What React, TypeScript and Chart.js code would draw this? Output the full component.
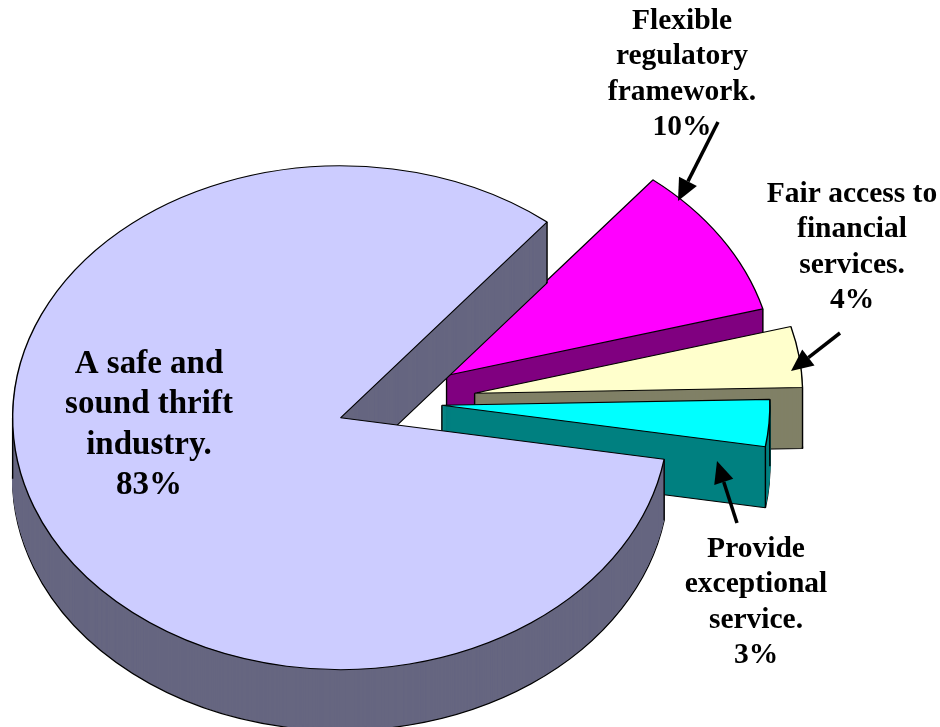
import React, { useEffect, useRef } from "react";
import { Chart, registerables } from "chart.js";

Chart.register(...registerables);

// Data, in drawing order (clockwise from the rotation angle)
const sliceNames = ["Flexible regulatory framework.", "Fair access to financial services.", "Provide exceptional service.", "A safe and sound thrift industry."];
const sliceValues = [9.9, 3.9, 3.0, 83.2];
const sliceExplode = [64, 82.5, 49, 56];
const topColors = ["#FF00FF", "#FFFFCC", "#00FFFF", "#CCCCFF"];
const sideColors = ["#800080", "#808066", "#008080", "#666680"];

// Label annotation
const labelLines = [
  ["Flexible", "regulatory", "framework."],
  ["Fair access to", "financial", "services."],
  ["Provide", "exceptional", "service."],
  ["A safe and", "sound thrift", "industry."],
];
const labelCenterX = [682, 852, 756, 149];
const labelFirstY = [21, 194, 549, 364];
const labelLineGap = [35.6, 35.6, 35.6, 40.6];
const labelFontPx = [29.5, 29.5, 29.5, 33];
const arrowFrom = [[718, 122], [840, 333], [737, 523]];
const arrowTo = [[678, 201], [791, 371], [717, 461]];

const ELLIPSE = 0.768;
const DEPTH = 61;
const RADIUS = 328;
const ROTATION = 39;
const OUTLINE = 1.4;

function pieThreeD() {
  return {
    id: "pieThreeD",
    beforeDatasetsDraw(chart: any) {
      const { ctx } = chart;
      const arcs = chart.getDatasetMeta(0).data;
      arcs.forEach((arc: any, i: number) => {
        const cy = arc.y;
        const mid = (arc.startAngle + arc.endAngle) / 2;
        const ex = Math.cos(mid) * sliceExplode[i];
        const ey = Math.sin(mid) * sliceExplode[i];
        const flat = (dy: number) => {
          ctx.translate(0, cy + dy);
          ctx.scale(1, ELLIPSE);
          ctx.translate(ex, ey - cy);
        };
        const base = arc.options;
        // bottom rim, then the body of the side
        ctx.save();
        flat(DEPTH);
        arc.options = Object.assign(Object.create(base), { backgroundColor: sideColors[i] });
        arc.draw(ctx);
        ctx.restore();
        arc.options = Object.assign(Object.create(base), {
          backgroundColor: sideColors[i],
          borderColor: sideColors[i],
          borderWidth: 1,
        });
        for (let d = DEPTH - 2; d >= 1; d--) {
          ctx.save();
          flat(d);
          arc.draw(ctx);
          ctx.restore();
        }
        arc.options = base;
        // silhouette verticals: the two rim corners, the apex and any left/right extreme
        const points: number[][] = [[arc.x + ex, cy + ey * ELLIPSE]];
        const angles = [arc.startAngle, arc.endAngle];
        for (let k = -2; k <= 4; k++) {
          const a = k * Math.PI;
          if (a > arc.startAngle && a < arc.endAngle) angles.push(a);
        }
        angles.forEach((a) => {
          points.push([
            arc.x + ex + Math.cos(a) * arc.outerRadius,
            cy + (ey + Math.sin(a) * arc.outerRadius) * ELLIPSE,
          ]);
        });
        ctx.save();
        ctx.strokeStyle = "#000";
        ctx.lineWidth = OUTLINE;
        ctx.beginPath();
        points.forEach(([px, py]) => {
          ctx.moveTo(px, py);
          ctx.lineTo(px, py + DEPTH);
        });
        ctx.stroke();
        ctx.restore();
        // top face
        ctx.save();
        flat(0);
        arc.draw(ctx);
        ctx.restore();
      });
      return false;
    },
    afterDraw(chart: any) {
      const { ctx } = chart;
      const total = sliceValues.reduce((a, b) => a + b, 0);
      ctx.save();
      ctx.fillStyle = "#000";
      ctx.textAlign = "center";
      ctx.textBaseline = "middle";
      labelLines.forEach((lines, i) => {
        ctx.font = `bold ${labelFontPx[i]}px "Liberation Serif"`;
        const all = [...lines, `${Math.round((sliceValues[i] / total) * 100)}%`];
        all.forEach((t, j) => ctx.fillText(t, labelCenterX[i], labelFirstY[i] + j * labelLineGap[i]));
      });
      arrowFrom.forEach((f, i) => {
        const t = arrowTo[i];
        const ang = Math.atan2(t[1] - f[1], t[0] - f[0]);
        const head = 22;
        const bx = t[0] - Math.cos(ang) * head;
        const by = t[1] - Math.sin(ang) * head;
        ctx.strokeStyle = "#000";
        ctx.lineWidth = 3.5;
        ctx.beginPath();
        ctx.moveTo(f[0], f[1]);
        ctx.lineTo(bx, by);
        ctx.stroke();
        ctx.beginPath();
        ctx.moveTo(t[0], t[1]);
        ctx.lineTo(bx + Math.sin(ang) * 10, by - Math.cos(ang) * 10);
        ctx.lineTo(bx - Math.sin(ang) * 10, by + Math.cos(ang) * 10);
        ctx.closePath();
        ctx.fill();
      });
      ctx.restore();
    },
  };
}

export default function App() {
  const ref = useRef<HTMLCanvasElement>(null);
  useEffect(() => {
    const chart = new Chart(ref.current as HTMLCanvasElement, {
      type: "pie",
      data: {
        labels: sliceNames,
        datasets: [{
          data: sliceValues,
          backgroundColor: topColors,
          borderColor: "#000",
          borderWidth: OUTLINE,
          hoverOffset: 0,
        }],
      },
      options: {
        animation: false,
        responsive: false,
        rotation: ROTATION,
        radius: RADIUS,
        layout: { padding: { left: 0, right: 154, top: 78, bottom: 0 } },
        plugins: { legend: { display: false }, tooltip: { enabled: false } },
      },
      plugins: [pieThreeD()],
    } as any);
    return () => chart.destroy();
  }, []);
  return (
    <div style={{ position: "absolute", left: 0, top: 0, width: 940, height: 727, background: "#fff" }}>
      <canvas ref={ref} width={940} height={727} style={{ display: "block" }} />
    </div>
  );
}
